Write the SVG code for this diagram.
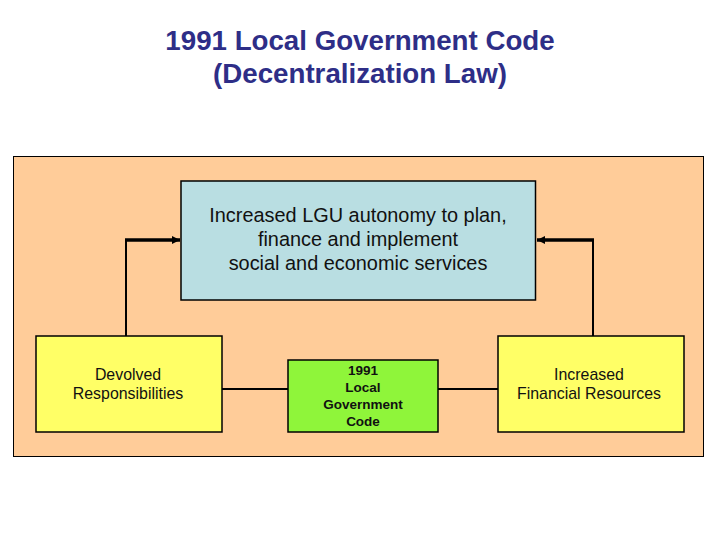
<svg xmlns="http://www.w3.org/2000/svg" width="720" height="540" viewBox="0 0 720 540">
<style>
.t{font-family:"Liberation Sans",Arial,sans-serif;text-anchor:middle}
.title{font-size:27.7px;font-weight:bold;fill:#2E2E87}
.box{stroke:#000;stroke-width:1.5}
.c{fill:none;stroke:#000;stroke-width:2}
.thick{fill:none;stroke:#000;stroke-width:3.5}
.big{font-size:19.9px;fill:#111}
.mid{font-size:15.9px;fill:#111}
.sm{font-size:13.5px;font-weight:bold;fill:#111}
</style>
<defs>
<marker id="ah" markerWidth="8" markerHeight="8" refX="8" refY="4" orient="auto" markerUnits="userSpaceOnUse">
<path d="M0,0 L8,4 L0,8 Z" fill="#000"/>
</marker>
</defs>
<rect width="720" height="540" fill="#fff"/>
<text class="t title" x="360" y="50">1991 Local Government Code</text>
<text class="t title" x="360" y="83">(Decentralization Law)</text>
<rect id="panel" x="13.5" y="156.5" width="690" height="300" fill="#FFCC99" stroke="#000" stroke-width="1"/>
<g id="connectors">
<path class="c" d="M126,336 V240"/>
<path class="thick" d="M125,240 H180" marker-end="url(#ah)"/>
<path class="c" d="M593,336 V240"/>
<path class="thick" d="M594,240 H537" marker-end="url(#ah)"/>
<path class="c" d="M222,389 H288"/>
<path class="c" d="M438,389 H498"/>
</g>
<g id="autonomy">
<rect class="box" x="181" y="181" width="354.5" height="119" fill="#B9DEE2"/>
<text class="t big" x="358" y="222">Increased LGU autonomy to plan,</text>
<text class="t big" x="358" y="246">finance and implement</text>
<text class="t big" x="358" y="270">social and economic services</text>
</g>
<g id="devolved">
<rect class="box" x="36" y="336" width="186" height="96" fill="#FFFF66"/>
<text class="t mid" x="128" y="380">Devolved</text>
<text class="t mid" x="128" y="399">Responsibilities</text>
</g>
<g id="lgc">
<rect class="box" x="288" y="360" width="150" height="72" fill="#8FF53A"/>
<text class="t sm" x="363" y="375">1991</text>
<text class="t sm" x="363" y="392">Local</text>
<text class="t sm" x="363" y="409">Government</text>
<text class="t sm" x="363" y="426">Code</text>
</g>
<g id="financial">
<rect class="box" x="498" y="336" width="186" height="96" fill="#FFFF66"/>
<text class="t mid" x="589" y="380">Increased</text>
<text class="t mid" x="589" y="399">Financial Resources</text>
</g>
</svg>
